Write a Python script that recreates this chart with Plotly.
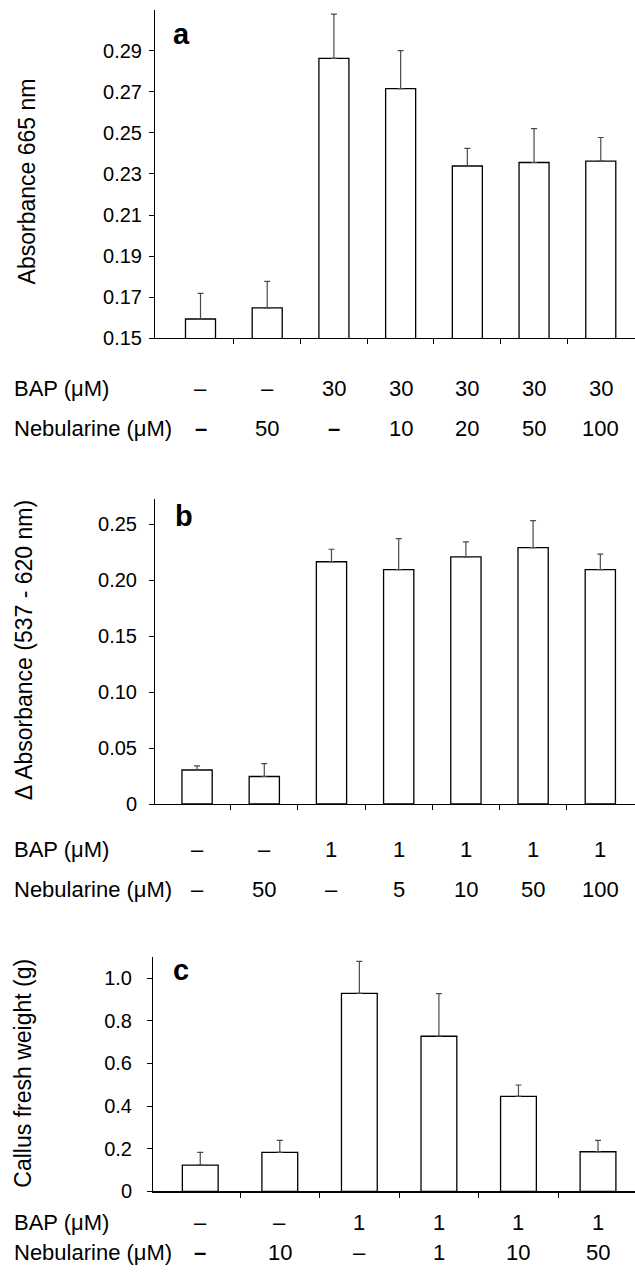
import plotly.graph_objects as go

W, H = 635, 1277
FONT = "Liberation Sans, Arial, sans-serif"

# ---------------- data ----------------
a_means = [0.1593, 0.1647, 0.2864, 0.2716, 0.2339, 0.2356, 0.2363]
a_err = [0.0125, 0.0129, 0.0215, 0.0185, 0.0086, 0.0165, 0.0115]
a_bap = ["–", "–", "30", "30", "30", "30", "30"]
a_neb = ["<b>–</b>", "50", "<b>–</b>", "10", "20", "50", "100"]
a_ticks = [0.15, 0.17, 0.19, 0.21, 0.23, 0.25, 0.27, 0.29]
a_ticktext = ["0.15", "0.17", "0.19", "0.21", "0.23", "0.25", "0.27", "0.29"]

b_means = [0.0304, 0.0246, 0.2166, 0.2095, 0.2210, 0.2293, 0.2095]
b_err = [0.0037, 0.0115, 0.0112, 0.0278, 0.0133, 0.0240, 0.0139]
b_bap = ["–", "–", "1", "1", "1", "1", "1"]
b_neb = ["–", "50", "–", "5", "10", "50", "100"]
b_ticks = [0, 0.05, 0.10, 0.15, 0.20, 0.25]
b_ticktext = ["0", "0.05", "0.10", "0.15", "0.20", "0.25"]

c_means = [0.1225, 0.183, 0.928, 0.727, 0.4455, 0.1856]
c_err = [0.060, 0.056, 0.150, 0.200, 0.053, 0.053]
c_bap = ["–", "–", "1", "1", "1", "1"]
c_neb = ["<b>–</b>", "10", "–", "1", "10", "50"]
c_ticks = [0, 0.2, 0.4, 0.6, 0.8, 1.0]
c_ticktext = ["0", "0.2", "0.4", "0.6", "0.8", "1.0"]

row_labels = ["BAP (μM)", "Nebularine (μM)"]
y_titles = ["Absorbance 665 nm", "Δ Absorbance (537 - 620 nm)", "Callus fresh weight (g)"]
panel_letters = ["a", "b", "c"]


def py(p):
    """pixel y (from top) -> paper fraction"""
    return (H - p) / H


def px(p):
    return p / W


panels = [
    dict(m=a_means, e=a_err, bap=a_bap, neb=a_neb, tv=a_ticks, tt=a_ticktext,
         yr=[0.15, 0.31], L=155, T=10, B=341, xr=[-0.682, 6.513], so=3,
         rows=(392, 432), title=(27, 183), letter=(181, 34)),
    dict(m=b_means, e=b_err, bap=b_bap, neb=b_neb, tv=b_ticks, tt=b_ticktext,
         yr=[0, 0.273], L=155, T=503, B=811, xr=[-0.626, 6.516], so=8,
         rows=(857, 897), title=(24, 656), letter=(184, 520)),
    dict(m=c_means, e=c_err, bap=c_bap, neb=c_neb, tv=c_ticks, tt=c_ticktext,
         yr=[0, 1.1], L=153, T=965, B=1201.7, xr=[-0.594, 5.465], so=11,
         rows=(1233, 1263), title=(23, 1083), letter=(181, 978)),
]

fig = go.Figure()
annotations = []
layout = {}

for i, p in enumerate(panels):
    k = "" if i == 0 else str(i + 1)
    n = len(p["m"])
    fig.add_trace(go.Bar(
        x=list(range(n)), y=p["m"], width=0.45,
        marker=dict(color="white", line=dict(color="black", width=1.3)),
        error_y=dict(type="data", array=p["e"], arrayminus=[0] * n, symmetric=False,
                     color="#4a4a4a", thickness=1.2, width=3),
        xaxis="x" + k, yaxis="y" + k, showlegend=False, hoverinfo="skip",
    ))
    layout["xaxis" + k] = dict(
        domain=[px(p["L"]), 1.0], range=p["xr"], anchor="y" + k,
        showline=True, linecolor="black", linewidth=1.3,
        tickmode="array", tickvals=[j + 0.5 for j in range(n - 1)],
        ticktext=[""] * (n - 1), ticks="outside", ticklen=5, tickwidth=1,
        tickcolor="black", showgrid=False, zeroline=False, fixedrange=True,
    )
    layout["yaxis" + k] = dict(
        domain=[py(p["B"]), py(p["T"])], range=p["yr"], anchor="x" + k,
        showline=True, linecolor="black", linewidth=1,
        tickmode="array", tickvals=p["tv"], ticktext=p["tt"],
        ticks="outside", ticklen=5, tickwidth=1, tickcolor="black",
        ticklabelstandoff=p["so"],
        tickfont=dict(family=FONT, size=20, color="black"),
        showgrid=False, zeroline=False, fixedrange=True,
    )
    annotations.append(dict(
        text=y_titles[i], xref="paper", yref="paper",
        x=px(p["title"][0]), y=py(p["title"][1]), xanchor="center", yanchor="middle",
        textangle=-90, showarrow=False, font=dict(family=FONT, size=23, color="black"),
    ))
    annotations.append(dict(
        text="<b>%s</b>" % panel_letters[i], xref="paper", yref="paper",
        x=px(p["letter"][0]), y=py(p["letter"][1]), xanchor="center", yanchor="middle",
        showarrow=False, font=dict(family=FONT, size=29, color="black"),
    ))
    for r, (lab, vals) in enumerate(zip(row_labels, [p["bap"], p["neb"]])):
        yy = py(p["rows"][r])
        annotations.append(dict(
            text=lab, xref="paper", yref="paper", x=px(12), y=yy,
            xanchor="left", yanchor="middle", showarrow=False,
            font=dict(family=FONT, size=22, color="black"),
        ))
        for j, v in enumerate(vals):
            annotations.append(dict(
                text=v, xref="x" + k, yref="paper", x=j, y=yy,
                xanchor="center", yanchor="middle", showarrow=False,
                font=dict(family=FONT, size=22, color="black"),
            ))

fig.update_layout(
    width=W, height=H, margin=dict(l=0, r=0, t=0, b=0),
    paper_bgcolor="white", plot_bgcolor="white",
    annotations=annotations, bargap=0.5, hovermode=False,
    font=dict(family=FONT, color="black"),
    **layout,
)

fig.write_html(
    "out.html",
    config={"displayModeBar": False, "staticPlot": True},
    post_script="document.body.style.margin='0';document.body.style.overflow='hidden';",
)
